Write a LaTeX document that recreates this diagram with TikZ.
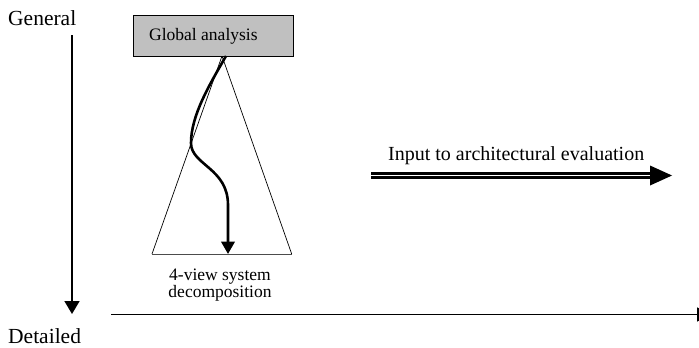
\documentclass[tikz,border=0pt]{standalone}
\usepackage{fontspec}
\setmainfont{Liberation Serif}
\usetikzlibrary{arrows.meta,calc}
\begin{document}
\begin{tikzpicture}[x=1pt,y=-1pt,
  lbl/.style={inner sep=0pt,anchor=base west},
  bigtxt/.style={font=\fontsize{21.5}{24}\selectfont},
  midtxt/.style={font=\fontsize{20}{23}\selectfont},
  smalltxt/.style={font=\fontsize{17.5}{20}\selectfont,inner sep=0pt,anchor=base},
  taskbox/.style={draw=black,line width=0.8pt,fill={rgb,255:red,192;green,192;blue,192},
    minimum width=160pt,minimum height=41pt,inner sep=0pt},
  axis/.style={line width=1.7pt,-{Triangle[length=13pt,width=15pt]}},
  flow/.style={line width=2.6pt,-{Triangle[length=12.5pt,width=13.5pt]}},
  shaft/.style={double=white,double distance=1.3pt,line width=2.7pt}]
\useasboundingbox (0,0) rectangle (699,348);
\clip (0,0) rectangle (699,348);

% axis labels
\node[lbl,bigtxt] (gen) at (8,25) {General};
\node[lbl,bigtxt] (det) at (8,343) {Detailed};

% level axis and horizontal axis
\coordinate (vtop) at (72,35);
\coordinate (vbot) at (72,314);
\draw[axis] (vtop) -- (vbot);
\coordinate (hl) at (111,314.5);
\coordinate (hr) at (711,314.5);
\draw[line width=1.4pt,-{Triangle[length=14pt,width=14pt]}] (hl) -- (hr);

% decomposition triangle
\coordinate (apex) at (222,56);
\coordinate (bl) at (152,254);
\coordinate (br) at (291.7,254);
\draw[line width=0.7pt] (bl) -- (apex) -- (br);
\draw[line width=1pt,black!70] (bl) -- (br);

% global analysis box
\node[taskbox,anchor=north west] (ga) at (133,15) {};
\node[lbl,font=\fontsize{17.5}{20}\selectfont] (gatxt) at (149,40) {Global analysis};

% refinement path
\coordinate (fstart) at (226,56);
\coordinate (fend) at (228,254);
\draw[flow] (fstart) .. controls (210,84) and (191,115) .. (191,143)
  .. controls (191,165) and (228,168) .. (228,205) -- (fend);

% triangle caption
\node[smalltxt] (cap1) at (220,280) {4-view system};
\node[smalltxt] (cap2) at (220,297) {decomposition};

% output arrow
\coordinate (in0) at (371,175.5);
\coordinate (in1) at (672,175.5);
\draw[shaft] (in0) -- ($(in1)+(-21,0)$);
\fill (in1) -- ++(-22,-10) -- ++(0,20) -- cycle;
\node[lbl,midtxt] (intxt) at (388,160.7) {Input to architectural evaluation};
\end{tikzpicture}
\end{document}
